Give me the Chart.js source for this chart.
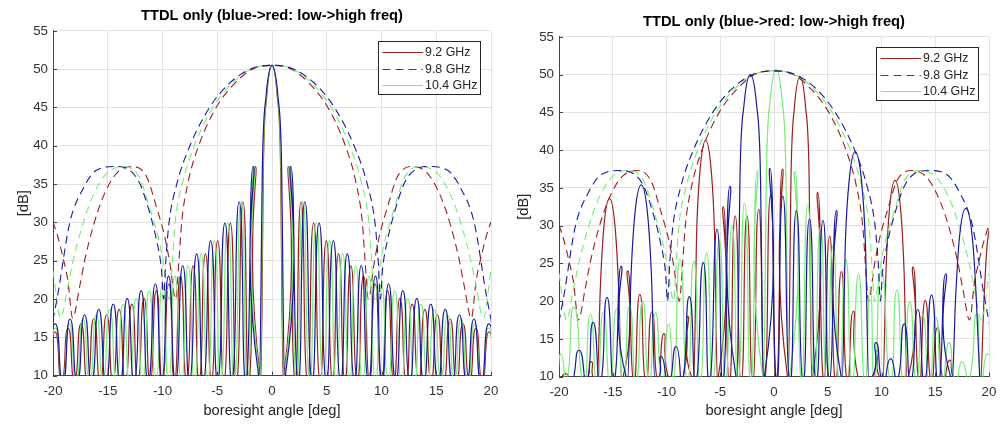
<!DOCTYPE html>
<html>
<head>
<meta charset="utf-8">
<script src="https://cdn.jsdelivr.net/npm/chart.js@4.4.1/dist/chart.umd.min.js"></script>
<style>
  html, body { margin: 0; padding: 0; background: #fff; }
  #wrap { position: relative; width: 1004px; height: 424px; overflow: hidden; }
  canvas { position: absolute; top: 0; }
</style>
</head>
<body>
<div id="wrap">
  <canvas id="leftChart" width="500" height="424" style="left:0px"></canvas>
  <canvas id="rightChart" width="492" height="424" style="left:506px"></canvas>
</div>
<script>
// text
const TITLE = 'TTDL only (blue->red: low->high freq)';
const X_LABEL = 'boresight angle [deg]';
const Y_LABEL = '[dB]';
const legendLabels = ['9.2 GHz', '9.8 GHz', '10.4 GHz'];

// axes
const xTicks = [-20, -15, -10, -5, 0, 5, 10, 15, 20];
const yTicks = [10, 15, 20, 25, 30, 35, 40, 45, 50, 55];

// level used for the pattern nulls (just below the visible floor)
const NULL_DB = 9.3;

// dashed envelopes [deg, dB] (same in both panels)
const envRed = [[-20,30.1],[-19.55,28.1],[-19.1,25.5],[-18.65,22.5],[-18.2,17.5],[-17.57,21.6],[-17.1,25.1],[-16.35,29.4],[-15.43,33.3],[-14.2,36.4],[-12.84,37.3],[-11.46,36.0],[-10.55,32.0],[-9.79,28.1],[-9.33,24.7],[-8.8,20.0],[-8.5,25.0],[-8.25,30.0],[-7.7,35.0],[-6.7,40.0],[-5.1,45.0],[-3.5,48.0],[-1.8,50.0],[0,50.5],[1.8,50.0],[3.5,48.0],[5.1,45.0],[6.7,40.0],[7.7,35.0],[8.25,30.0],[8.5,25.0],[8.8,20.0],[9.33,24.7],[9.79,28.1],[10.55,32.0],[11.46,36.0],[12.84,37.3],[14.2,36.4],[15.43,33.3],[16.35,29.4],[17.1,25.1],[17.57,21.6],[18.2,17.5],[18.65,22.5],[19.1,25.5],[19.55,28.1],[20,30.1]];
const envGreen = [[-20,23.7],[-19.3,17.5],[-18.65,21.6],[-18.15,25.1],[-17.35,29.4],[-16.4,33.3],[-15.1,36.4],[-13.6,37.3],[-12.15,36.0],[-11.2,32.0],[-10.4,28.1],[-9.9,24.7],[-9.35,20.0],[-9.1,25.0],[-8.85,30.0],[-8.2,35.0],[-7.1,40.0],[-5.4,45.0],[-3.75,48.0],[-1.9,50.0],[0,50.5],[1.9,50.0],[3.75,48.0],[5.4,45.0],[7.1,40.0],[8.2,35.0],[8.85,30.0],[9.1,25.0],[9.35,20.0],[9.9,24.7],[10.4,28.1],[11.2,32.0],[12.15,36.0],[13.6,37.3],[15.1,36.4],[16.4,33.3],[17.35,29.4],[18.15,25.1],[18.65,21.6],[19.3,17.5],[20,23.7]];
const envBlue = [[-20.25,15.5],[-19.55,20.7],[-18.48,29.9],[-17.26,34.4],[-16.04,36.8],[-14.36,37.3],[-12.99,36.8],[-12.08,35.1],[-11.16,31.2],[-10.55,27.7],[-10.09,23.8],[-9.9,20.0],[-9.7,25.0],[-9.4,30.0],[-8.7,35.0],[-7.5,40.0],[-5.7,45.0],[-4.0,48.0],[-2.0,50.0],[0,50.5],[2.0,50.0],[4.0,48.0],[5.7,45.0],[7.5,40.0],[8.7,35.0],[9.4,30.0],[9.7,25.0],[9.9,20.0],[10.09,23.8],[10.55,27.7],[11.16,31.2],[12.08,35.1],[12.99,36.8],[14.36,37.3],[16.04,36.8],[17.26,34.4],[18.48,29.9],[19.55,20.7],[20.25,15.5]];

// left panel, solid patterns: side lobe peaks, big beams (peak + flanks), null angles
const leftBluePts = [[-19.78,16.75],[-18.44,17.4],[-17.12,17.95],[-15.82,18.65],[-14.5,19.35],[-13.22,20.1],[-11.95,21.1],[-10.65,22.0],[-9.45,23.0],[-8.15,24.35],[-6.88,25.9],[-5.6,27.6],[-4.3,29.9],[-3.0,32.7],[-1.72,37.3],[1.72,37.3],[3.0,32.7],[4.3,29.9],[5.6,27.6],[6.88,25.9],[8.15,24.35],[9.45,23.0],[10.65,22.0],[11.95,21.1],[13.22,20.1],[14.5,19.35],[15.82,18.65],[17.12,17.95],[18.44,17.4],[19.78,16.75]];
const leftBlueBeam = [[-0.86,38.5],[-0.54,46.5],[0,50.5],[0.54,46.5],[0.86,38.5]];
const leftBlueNulls = [-20.45,-19.1,-17.78,-16.47,-15.16,-13.86,-12.58,-11.3,-10.05,-8.8,-7.52,-6.25,-4.95,-3.65,-2.38,-1.15,1.15,2.38,3.65,4.95,6.25,7.52,8.8,10.05,11.3,12.58,13.86,15.16,16.47,17.78,19.1,20.45];
const leftGreenPts = [[-19.75,16.2],[-18.5,16.75],[-17.26,17.4],[-16.03,17.95],[-14.82,18.65],[-13.6,19.35],[-12.4,20.1],[-11.21,21.1],[-10.0,22.0],[-8.87,23.0],[-7.65,24.35],[-6.46,25.9],[-5.26,27.6],[-4.04,29.9],[-2.82,32.7],[-1.62,37.3],[1.62,37.3],[2.82,32.7],[4.04,29.9],[5.26,27.6],[6.46,25.9],[7.65,24.35],[8.87,23.0],[10.0,22.0],[11.21,21.1],[12.4,20.1],[13.6,19.35],[14.82,18.65],[16.03,17.95],[17.26,17.4],[18.5,16.75],[19.75,16.2]];
const leftGreenBeam = [[-0.81,38.5],[-0.51,46.5],[0,50.5],[0.51,46.5],[0.81,38.5]];
const leftGreenNulls = [-20.38,-19.12,-17.88,-16.65,-15.43,-14.2,-13.0,-11.8,-10.6,-9.44,-8.26,-7.06,-5.86,-4.66,-3.43,-2.23,-1.08,1.08,2.23,3.43,4.66,5.86,7.06,8.26,9.44,10.6,11.8,13.0,14.2,15.43,16.65,17.88,19.12,20.38];
const leftRedPts = [[-19.8,15.7],[-18.62,16.2],[-17.44,16.75],[-16.27,17.4],[-15.1,17.95],[-13.96,18.65],[-12.8,19.35],[-11.68,20.1],[-10.56,21.1],[-9.42,22.0],[-8.36,23.0],[-7.2,24.35],[-6.08,25.9],[-4.96,27.6],[-3.8,29.9],[-2.65,32.7],[-1.52,37.3],[1.52,37.3],[2.65,32.7],[3.8,29.9],[4.96,27.6],[6.08,25.9],[7.2,24.35],[8.36,23.0],[9.42,22.0],[10.56,21.1],[11.68,20.1],[12.8,19.35],[13.96,18.65],[15.1,17.95],[16.27,17.4],[17.44,16.75],[18.62,16.2],[19.8,15.7]];
const leftRedBeam = [[-0.77,38.5],[-0.48,46.5],[0,50.5],[0.48,46.5],[0.77,38.5]];
const leftRedNulls = [-20.4,-19.2,-18.03,-16.85,-15.68,-14.52,-13.38,-12.25,-11.12,-10.0,-8.9,-7.78,-6.65,-5.52,-4.38,-3.23,-2.1,-1.02,1.02,2.1,3.23,4.38,5.52,6.65,7.78,8.9,10.0,11.12,12.25,13.38,14.52,15.68,16.85,18.03,19.2,20.4];

// right panel, solid patterns
const rightBluePts = [[-18.1,13.5],[-16.82,17.2],[-15.53,20.5],[-14.22,24.6],[-10.5,12.7],[-9.1,14.0],[-7.87,20.6],[-6.58,25.1],[-5.3,29.5],[-4.1,35.2],[-0.37,37.6],[0.82,33.9],[2.08,32.0],[3.3,30.9],[4.56,30.7],[5.8,32.0],[9.48,14.5],[10.85,12.4],[12.12,17.0],[13.38,18.9],[14.66,20.8],[15.97,23.6]];
const rightBlueBeam = [[-13.3,23.4],[-12.95,31.4],[-12.35,35.4],[-11.75,31.4],[-11.4,23.4],[-3.14,38],[-2.79,46],[-2.2,50.0],[-1.62,46],[-1.28,38],[6.64,27.8],[6.98,35.8],[7.55,39.8],[8.15,35.8],[8.5,27.8],[16.89,20.3],[17.24,28.3],[17.84,32.3],[18.46,28.3],[18.82,20.3]];
const rightBlueNulls = [-18.7,-17.43,-16.16,-14.89,-13.62,-11.08,-9.81,-8.54,-7.27,-6.0,-4.74,-3.45,-0.97,0.25,1.48,2.7,3.93,5.15,6.34,8.82,10.15,11.45,12.72,14.0,15.3,16.57,19.15];
const rightGreenPts = [[-19.8,13.0],[-18.6,19.2],[-17.08,18.3],[-15.86,18.6],[-14.64,19.0],[-13.43,19.4],[-12.22,20.0],[-11.03,18.5],[-9.8,17.0],[-8.75,25.5],[-7.46,25.3],[-6.27,26.4],[-5.09,28.1],[-3.91,30.0],[-2.74,33.0],[-1.56,37.3],[1.96,37.2],[3.14,32.8],[4.32,29.8],[5.49,27.3],[6.68,25.5],[7.86,23.6],[8.95,22.0],[10.0,24.0],[11.43,21.5],[12.63,19.9],[13.84,18.2],[15.05,17.9],[16.27,14.5],[17.5,12.0],[18.85,18.3],[19.85,13.0]];
const rightGreenBeam = [[-0.68,38.7],[-0.35,46.7],[0.2,50.7],[0.75,46.7],[1.08,38.7]];
const rightGreenNulls = [-20.18,-19.3,-17.7,-16.47,-15.25,-14.03,-12.83,-11.63,-10.43,-9.35,-8.05,-6.86,-5.68,-4.5,-3.33,-2.15,-0.975,1.375,2.55,3.73,4.9,6.08,7.27,8.45,9.35,10.84,12.03,13.24,14.45,15.66,16.89,18.12,19.3,20.6];
const rightRedPts = [[-19.4,10.4],[-17.01,12.0],[-13.6,24.0],[-12.48,20.9],[-11.36,18.6],[-10.24,15.7],[-8.02,18.0],[-4.71,32.5],[-3.61,31.3],[-2.51,31.3],[-1.42,32.2],[-0.32,34.0],[0.78,37.5],[4.07,34.4],[5.17,28.6],[6.27,23.9],[7.37,18.7],[9.59,13.5],[12.94,24.5],[14.07,20.1],[15.2,16.5],[16.34,12.2]];
const rightRedBeam = [[-16.16,21.6],[-15.84,29.6],[-15.3,33.6],[-14.77,29.6],[-14.45,21.6],[-7.19,29.3],[-6.88,37.3],[-6.36,41.3],[-5.84,37.3],[-5.54,29.3],[1.6,37.7],[1.9,45.7],[2.42,49.7],[2.94,45.7],[3.25,37.7],[10.42,24.0],[10.73,32.0],[11.26,36.0],[11.79,32.0],[12.1,24.0],[19.51,19.5],[19.83,27.5],[20.38,31.5]];
const rightRedNulls = [-19.9,-18.74,-17.59,-16.44,-14.17,-13.04,-11.92,-10.8,-9.68,-8.57,-7.47,-5.26,-4.16,-3.06,-1.97,-0.87,0.23,1.32,3.52,4.62,5.72,6.82,7.92,9.03,10.14,12.38,13.5,14.63,15.77,16.91,18.06,19.22];

// styling
const FONT = "'Liberation Sans', Arial, Helvetica, sans-serif";
const RED = '#9a1f1f';
const GREEN = '#78ec78';
const BLUE = '#1a1a9c';
const DASH = [8, 5];
const AXIS_COLOR = '#444444';
const TEXT_COLOR = '#262626';
const legendColors = [RED, RED, GREEN];
const legendDash = [[], DASH, []];

function toXY(pts) {
  return pts.map(p => ({ x: p[0], y: p[1] }));
}

// lobe points + nulls -> one sorted series
function pattern(pts, nulls) {
  const all = toXY(pts).concat(nulls.map(x => ({ x: x, y: NULL_DB })));
  return all.sort((a, b) => a.x - b.x);
}

// kind: 'side' = spline with wide lobe tops, 'beam' / 'env' = monotone
function line(data, color, kind) {
  const ds = {
    data: data,
    borderColor: color,
    borderWidth: kind === 'env' ? 1.1 : 1.2,
    borderDash: kind === 'env' ? DASH : [],
    pointRadius: 0,
    fill: false
  };
  if (kind === 'side') {
    ds.cubicInterpolationMode = 'default';
    ds.tension = 0.7;
  } else {
    ds.cubicInterpolationMode = 'monotone';
  }
  return ds;
}

// one frequency = side lobes + main/grating beams + dashed envelope
function freqSets(pts, beam, nulls, env, color) {
  return [
    line(pattern(pts, nulls), color, 'side'),
    line(pattern(beam, nulls), color, 'beam'),
    line(toXY(env), color, 'env')
  ];
}

// inward ticks + MATLAB-like legend box
const axesExtras = {
  id: 'axesExtras',
  afterDatasetsDraw(chart) {
    const { ctx, chartArea: a, scales } = chart;
    ctx.save();
    ctx.strokeStyle = AXIS_COLOR;
    ctx.lineWidth = 1;
    ctx.beginPath();
    xTicks.forEach(v => {
      const px = Math.round(scales.x.getPixelForValue(v)) + 0.5;
      ctx.moveTo(px, a.bottom);
      ctx.lineTo(px, a.bottom - 4);
    });
    yTicks.forEach(v => {
      const py = Math.round(scales.y.getPixelForValue(v)) + 0.5;
      ctx.moveTo(a.left, py);
      ctx.lineTo(a.left + 4, py);
    });
    ctx.stroke();

    const w = 102, h = 53;
    const bx = Math.round(a.right - 11 - w), by = Math.round(a.top + 10);
    ctx.fillStyle = '#ffffff';
    ctx.fillRect(bx, by, w, h);
    ctx.strokeStyle = TEXT_COLOR;
    ctx.strokeRect(bx + 0.5, by + 0.5, w, h);
    ctx.font = '12.4px ' + FONT;
    ctx.textBaseline = 'middle';
    legendLabels.forEach((label, i) => {
      const ly = Math.round(by + 11 + i * 16.7) + 0.5;
      ctx.strokeStyle = legendColors[i];
      ctx.lineWidth = 1.2;
      ctx.setLineDash(legendDash[i]);
      ctx.beginPath();
      ctx.moveTo(bx + 4.5, ly);
      ctx.lineTo(bx + 45, ly);
      ctx.stroke();
      ctx.setLineDash([]);
      ctx.fillStyle = TEXT_COLOR;
      ctx.fillText(label, bx + 47, ly);
    });
    ctx.restore();
  }
};

function makeChart(id, datasets, o) {
  return new Chart(document.getElementById(id), {
    type: 'line',
    data: { datasets: datasets },
    options: {
      responsive: false,
      animation: false,
      events: [],
      layout: { padding: { left: 0, right: 9, top: 0, bottom: 0 } },
      plugins: {
        legend: { display: false },
        tooltip: { enabled: false },
        title: {
          display: true,
          fullSize: false,
          text: TITLE,
          color: '#000000',
          font: { family: FONT, size: 14.7, weight: 'bold' },
          padding: { top: o.titleTop, bottom: 6 }
        }
      },
      scales: {
        x: {
          type: 'linear',
          min: -20, max: 20,
          afterBuildTicks: s => { s.ticks = xTicks.map(v => ({ value: v })); },
          afterFit: s => { s.height = o.xHeight; s.paddingLeft = 0; s.paddingRight = 0; },
          ticks: { color: '#333333', padding: 8, font: { family: FONT, size: 13.3 } },
          grid: { color: '#e2e2e2', drawTicks: false },
          border: { color: AXIS_COLOR },
          title: {
            display: true, text: X_LABEL, color: TEXT_COLOR,
            font: { family: FONT, size: 14.7 },
            padding: { top: 0, bottom: 4.6 }
          }
        },
        y: {
          type: 'linear',
          min: 10, max: 55,
          afterBuildTicks: s => { s.ticks = yTicks.map(v => ({ value: v })); },
          afterFit: s => { s.width = 53; },
          ticks: { color: '#333333', padding: 5, font: { family: FONT, size: 13.3 } },
          grid: { color: '#e2e2e2', drawTicks: false },
          border: { color: AXIS_COLOR },
          title: {
            display: true, text: Y_LABEL, color: TEXT_COLOR,
            font: { family: FONT, size: 14.7 },
            padding: { top: o.yTitlePad, bottom: 0 }
          }
        }
      }
    },
    plugins: [axesExtras]
  });
}

// blue first so it is painted on top
makeChart('leftChart', [].concat(
  freqSets(leftBluePts, leftBlueBeam, leftBlueNulls, envBlue, BLUE),
  freqSets(leftGreenPts, leftGreenBeam, leftGreenNulls, envGreen, GREEN),
  freqSets(leftRedPts, leftRedBeam, leftRedNulls, envRed, RED)
), { titleTop: 7.2, xHeight: 48.3, yTitlePad: 14.8 });

makeChart('rightChart', [].concat(
  freqSets(rightBluePts, rightBlueBeam, rightBlueNulls, envBlue, BLUE),
  freqSets(rightGreenPts, rightGreenBeam, rightGreenNulls, envGreen, GREEN),
  freqSets(rightRedPts, rightRedBeam, rightRedNulls, envRed, RED)
), { titleTop: 13.2, xHeight: 47.3, yTitlePad: 8.8 });
</script>
</body>
</html>
